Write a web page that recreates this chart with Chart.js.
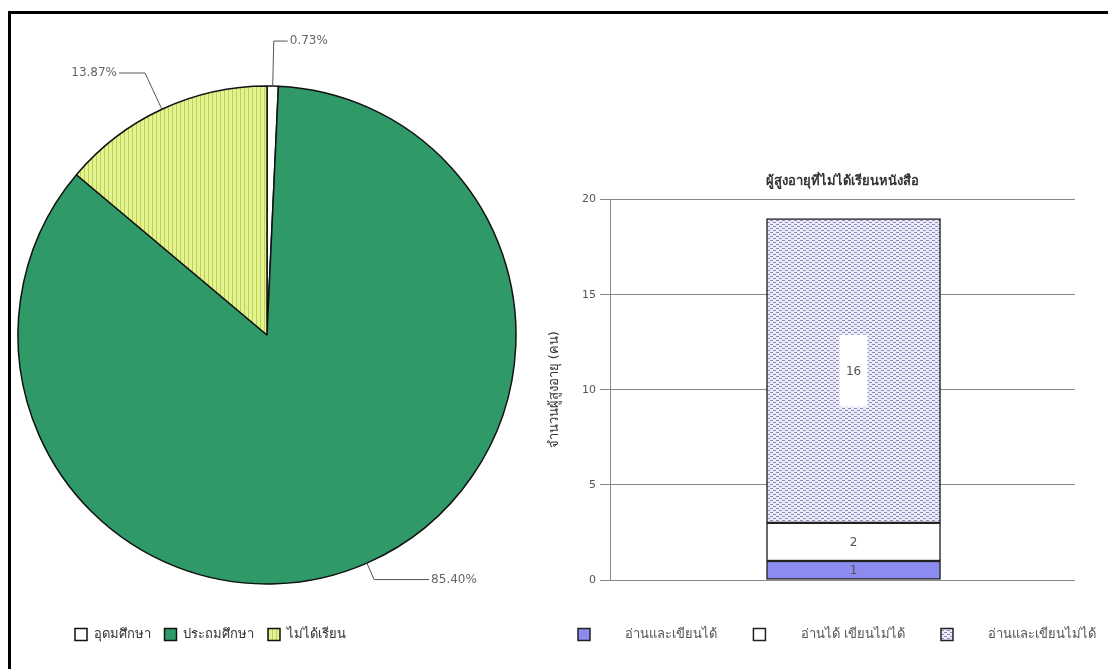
<!DOCTYPE html>
<html>
<head>
<meta charset="utf-8">
<script src="https://cdn.jsdelivr.net/npm/chart.js@4.4.0/dist/chart.umd.min.js"></script>
<style>
  html, body { margin: 0; padding: 0; background: #fff; width: 1108px; height: 669px; overflow: hidden; }
  body { position: relative; }
  #frame { position: absolute; left: 8px; top: 11px; width: 1200px; height: 700px; border-left: 3px solid #000; border-top: 3px solid #000; }
  #pieBox { position: absolute; left: 0; top: 0; width: 540px; height: 669px; }
  #barBox { position: absolute; left: 542px; top: 140px; width: 700px; height: 529px; }
</style>
</head>
<body>
<div id="frame"></div>
<div id="pieBox"><canvas id="pieChart"></canvas></div>
<div id="barBox"><canvas id="barChart"></canvas></div>
<script>
// ข้อมูลวงกลม: ระดับการศึกษา (%)
const pieLabels = ['อุดมศึกษา', 'ประถมศึกษา', 'ไม่ได้เรียน'];
const pieValues = [0.73, 85.40, 13.87];

// ข้อมูลแท่ง: ผู้สูงอายุที่ไม่ได้เรียนหนังสือ (คน)
const barTitle = 'ผู้สูงอายุที่ไม่ได้เรียนหนังสือ';
const barCategoryIndex = [0];
const barSeries = ['อ่านและเขียนได้', 'อ่านได้ เขียนไม่ได้', 'อ่านและเขียนไม่ได้'];
const barValues = [1, 2, 16];
const yTicks = [0, 5, 10, 15, 20];
const yTitle = 'จำนวนผู้สูงอายุ (คน)';

const fontFam = 'Tahoma, "DejaVu Sans", "Noto Sans", sans-serif';
Chart.defaults.font.family = fontFam;
Chart.defaults.animation = false;

// ลายเส้นตั้งสีเหลือง
function stripePattern() {
    const c = document.createElement('canvas');
    c.width = 4; c.height = 4;
    const g = c.getContext('2d');
    g.fillStyle = '#e4f290';
    g.fillRect(0, 0, 4, 4);
    g.fillStyle = '#b8d25a';
    g.fillRect(0, 0, 1, 4);
    return g.createPattern(c, 'repeat');
}

// ลายจุดสีม่วงอ่อน
function dotPattern() {
    const c = document.createElement('canvas');
    c.width = 6; c.height = 4;
    const g = c.getContext('2d');
    g.fillStyle = '#ececf8';
    g.fillRect(0, 0, 6, 4);
    g.fillStyle = '#8c8cc0';
    g.fillRect(0, 0, 3, 1);
    g.fillRect(3, 2, 3, 1);
    return g.createPattern(c, 'repeat');
}

const pieColors = ['#ffffff', '#2f9a68', stripePattern()];
const barColors = ['#8c8cf0', '#ffffff', dotPattern()];

// เส้นชี้ป้ายเปอร์เซ็นต์
const pieCallouts = {
    id: 'pieCallouts',
    afterDatasetsDraw(chart) {
        const ctx = chart.ctx;
        const meta = chart.getDatasetMeta(0);
        const ext = [45, 18, 40];
        const leg = [14, 55, 26];
        ctx.save();
        ctx.strokeStyle = '#555';
        ctx.lineWidth = 1;
        ctx.font = '12px ' + fontFam;
        ctx.fillStyle = '#666';
        ctx.textBaseline = 'middle';
        meta.data.forEach(function(arc, i) {
            const p = arc.getProps(['x', 'y', 'startAngle', 'endAngle', 'outerRadius']);
            const mid = (p.startAngle + p.endAngle) / 2;
            const cos = Math.cos(mid), sin = Math.sin(mid);
            const x0 = p.x + p.outerRadius * cos, y0 = p.y + p.outerRadius * sin;
            const x1 = p.x + (p.outerRadius + ext[i]) * cos, y1 = p.y + (p.outerRadius + ext[i]) * sin;
            const dir = cos >= 0 ? 1 : -1;
            const x2 = x1 + dir * leg[i];
            ctx.beginPath();
            ctx.moveTo(x0, y0);
            ctx.lineTo(x1, y1);
            ctx.lineTo(x2, y1);
            ctx.stroke();
            ctx.textAlign = dir > 0 ? 'left' : 'right';
            ctx.fillText(pieValues[i].toFixed(2) + '%', x2 + dir * 2, y1);
        });
        ctx.restore();
    }
};

new Chart(document.getElementById('pieChart'), {
    type: 'pie',
    data: {
        labels: pieLabels,
        datasets: [{
            data: pieValues,
            backgroundColor: pieColors,
            borderColor: '#111',
            borderWidth: 1.5,
            radius: 249
        }]
    },
    options: {
        responsive: true,
        maintainAspectRatio: false,
        layout: { padding: { left: 61, right: 67, top: 56, bottom: 18 } },
        plugins: {
            legend: {
                position: 'bottom',
                align: 'start',
                labels: {
                    boxWidth: 12, boxHeight: 12, padding: 14,
                    color: '#333', font: { size: 13 }
                }
            },
            tooltip: { enabled: false }
        }
    },
    plugins: [pieCallouts]
});

// ป้ายตัวเลขบนแท่ง
const barValueLabels = {
    id: 'barValueLabels',
    afterDatasetsDraw(chart) {
        const ctx = chart.ctx;
        ctx.save();
        ctx.font = '12px ' + fontFam;
        ctx.textAlign = 'center';
        ctx.textBaseline = 'middle';
        chart.data.datasets.forEach(function(ds, i) {
            const bar = chart.getDatasetMeta(i).data[0];
            const cy = (bar.y + bar.base) / 2;
            const h = Math.abs(bar.base - bar.y);
            if (h > 90) {
                ctx.fillStyle = '#fff';
                ctx.fillRect(bar.x - 14, cy - 36, 28, 72);
            }
            ctx.fillStyle = '#555';
            ctx.fillText(String(ds.data[0].y), bar.x, cy + 1);
        });
        ctx.restore();
    }
};

new Chart(document.getElementById('barChart'), {
    type: 'bar',
    data: {
        datasets: barSeries.map(function(name, i) {
            return {
                label: name,
                data: [{ x: barCategoryIndex[0], y: barValues[i] }],
                backgroundColor: barColors[i],
                borderColor: '#222',
                borderWidth: 1.5,
                borderSkipped: false,
                barThickness: 174
            };
        })
    },
    options: {
        responsive: true,
        maintainAspectRatio: false,
        layout: { padding: { left: 0, right: 0, top: 0, bottom: 18 } },
        scales: {
            x: {
                type: 'linear',
                stacked: true,
                min: -1,
                max: 0.9,
                grid: { display: false },
                border: { display: false },
                ticks: { display: false },
                afterFit(s) { s.height = 12; }
            },
            y: {
                stacked: true,
                min: 0,
                max: 20,
                afterBuildTicks(s) { s.ticks = yTicks.map(function(v) { return { value: v }; }); },
                grid: { color: '#888', tickLength: 10, lineWidth: 1 },
                border: { color: '#888' },
                ticks: { color: '#555', font: { size: 11 }, padding: 4 },
                title: { display: true, text: yTitle, color: '#333', font: { size: 13 }, padding: { top: 5, bottom: 0 } },
                afterFit(s) { s.width = 68; }
            },
            yRight: {
                position: 'right',
                display: true,
                grid: { display: false },
                border: { display: false },
                ticks: { display: false },
                afterFit(s) { s.width = 167; }
            }
        },
        plugins: {
            title: {
                display: true,
                text: barTitle,
                fullSize: false,
                color: '#333',
                font: { size: 13, weight: 'bold' },
                padding: { top: 34, bottom: 10 }
            },
            legend: {
                position: 'bottom',
                align: 'start',
                labels: {
                    boxWidth: 12, boxHeight: 12, padding: 36,
                    color: '#555', font: { size: 13 },
                    generateLabels(chart) {
                        const items = Chart.defaults.plugins.legend.labels.generateLabels(chart);
                        items.forEach(function(it) { it.text = '       ' + it.text; });
                        return items;
                    }
                }
            },
            tooltip: { enabled: false }
        }
    },
    plugins: [barValueLabels]
});
</script>
</body>
</html>
